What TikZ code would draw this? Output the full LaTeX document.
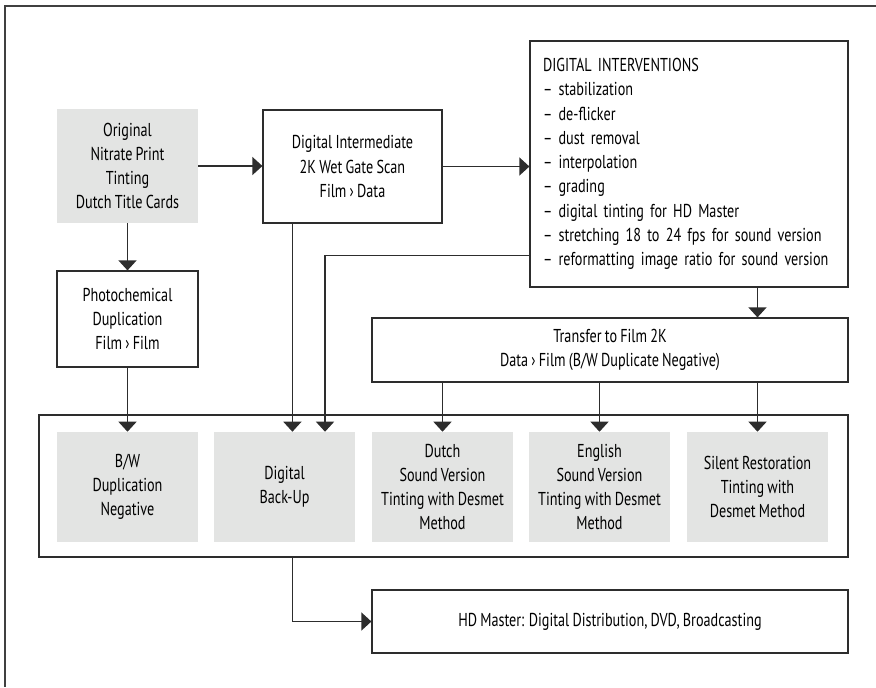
\documentclass[tikz,border=0pt]{standalone}
\usepackage{fontspec}
\setmainfont{PT Sans}[FakeStretch=0.76, WordSpace=0.85]
\usetikzlibrary{arrows.meta}
\definecolor{boxgrey}{RGB}{227,228,227}
\definecolor{linegrey}{RGB}{45,45,45}
\tikzset{
stage/.style={draw=linegrey, line width=0.9pt, rectangle, align=center, inner sep=0pt,
  font=\fontsize{14pt}{18.2pt}\selectfont},
stock/.style={fill=boxgrey, rectangle, align=center, inner sep=0pt,
  minimum width=105.75pt, minimum height=82.5pt, font=\fontsize{14pt}{18.2pt}\selectfont},
flow/.style={draw=linegrey, line width=0.9pt, -{Triangle[width=13.5pt,length=7.5pt]}},
frame/.style={draw=black!75, line width=1.2pt}
}

\begin{document}
\begin{tikzpicture}[x=0.75pt,y=-0.75pt]
\useasboundingbox (0,0) rectangle (876,687);
\draw[frame] (876,6) -- (5,6) -- (5,687);
\node[stock, minimum height=85.5pt] (orig) at (127.5,166)
  {Original\\Nitrate Print\\Tinting\\Dutch Title Cards};
\node[stage, minimum width=134.25pt, minimum height=84.75pt] (inter) at (352.5,166.5)
  {Digital Intermediate\\2K Wet Gate Scan\\Film › Data};
\node[stage, minimum width=238.5pt, minimum height=184.5pt, text width=219pt,
  align=left] (interv) at (689,164)
  {DIGITAL INTERVENTIONS\\– stabilization\\– de-flicker\\– dust removal\\
   – interpolation\\– grading\\– digital tinting for HD Master\\
   – stretching 18 to 24 fps for sound version\\
   – reformatting image ratio for sound version};
\node[stage, minimum width=105.75pt, minimum height=72pt] (photo) at (127.5,319)
  {Photochemical\\Duplication\\Film › Film};
\node[stage, minimum width=357pt, minimum height=48pt] (transfer) at (610,350)
  {Transfer to Film 2K\\Data › Film (B/W Duplicate Negative)};
\node[stage, minimum width=606.75pt, minimum height=106.5pt] (versions) at (443.5,486) {};
\node[stock] (bw) at (127.5,487) {B/W\\Duplication\\Negative};
\node[stock] (backup) at (284.5,487) {Digital\\Back-Up};
\node[stock] (dutch) at (442.5,487) {Dutch\\Sound Version\\Tinting with Desmet\\Method};
\node[stock] (english) at (599.5,487) {English\\Sound Version\\Tinting with Desmet\\Method};
\node[stock] (silent) at (757.5,487) {Silent Restoration\\Tinting with\\Desmet Method};
\node[stage, minimum width=357pt, minimum height=47.25pt] (hd) at (610,621.5)
  {HD Master: Digital Distribution, DVD, Broadcasting};

\draw[flow] (orig.east) -- (orig.east -| inter.west);
\draw[flow] (inter.east) -- (inter.east -| interv.west);
\draw[flow] (orig) -- (photo);
\draw[flow] (photo) -- (bw);
\coordinate (scan) at ([xshift=22.5pt]inter.south west);
\draw[flow] (scan) -- (scan |- backup.north);
\coordinate (graded) at ([yshift=24pt]interv.south west);
\coordinate (saved) at ([xshift=30.4pt]backup.north);
\draw[flow] (graded) -| (saved);
\draw[flow] (interv.south -| silent) -- (transfer.north -| silent);
\foreach \v in {dutch,english,silent}
  \draw[flow] (transfer.south -| \v) -- (\v.north);
\draw[flow] (versions.south -| scan) |- (hd.west);
\end{tikzpicture}
\end{document}
